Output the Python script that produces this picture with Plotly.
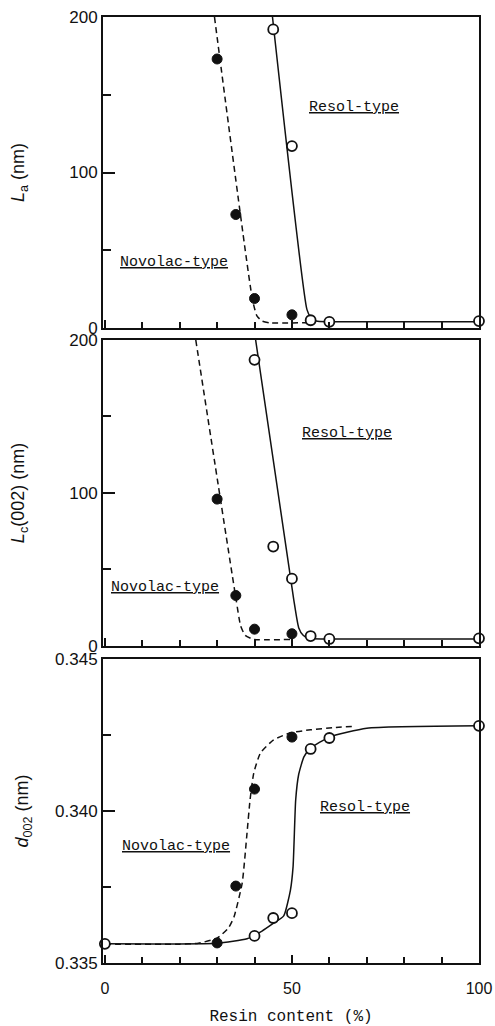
import plotly.graph_objects as go

# ---------------- data ----------------
# Panel 1: La (nm)
nov_La_x = [30, 35, 40, 50]
nov_La_y = [173, 73, 19, 8.5]
res_La_x = [45, 50, 55, 60, 100]
res_La_y = [192, 117, 5, 4, 4.5]
nov_La_fit_x = [29.3, 39.4, 40.6, 42.0, 44.0, 54.0]
nov_La_fit_y = [200, 19, 8, 4.5, 3.4, 3.4]
res_La_fit_x = [44.8, 54.0, 55.0, 56.5, 60.0, 100]
res_La_fit_y = [200, 12, 7, 4.5, 4.0, 4.0]

# Panel 2: Lc(002) (nm)
nov_Lc_x = [30, 35, 40, 50]
nov_Lc_y = [96, 33, 11, 8]
res_Lc_x = [40, 45, 50, 55, 60, 100]
res_Lc_y = [187, 65, 44, 6.5, 4.6, 5]
nov_Lc_fit_x = [24.3, 35.1, 36.3, 37.5, 39.8, 50.0]
nov_Lc_fit_y = [200, 30, 13, 7, 4.3, 4.3]
res_Lc_fit_x = [40.3, 50.5, 51.8, 53.0, 54.5, 58.0, 100]
res_Lc_fit_y = [200, 30, 12, 7, 5, 4.5, 4.5]

# Panel 3: d002 (nm)
nov_d_x = [30, 35, 40, 50]
nov_d_y = [0.33566, 0.33753, 0.34072, 0.34243]
res_d_x = [0, 40, 45, 50, 55, 60, 100]
res_d_y = [0.33563, 0.33589, 0.33648, 0.33664, 0.34204, 0.34240, 0.34280]
nov_d_fit_x = [0, 20, 25, 30, 33, 34.5, 36.7, 38, 38.8, 39.8, 41.6, 45.1, 49.6, 55, 61, 66]
nov_d_fit_y = [0.33562, 0.33562, 0.33565, 0.33582, 0.33615, 0.33651, 0.33763, 0.33928,
               0.34036, 0.34125, 0.34191, 0.34234, 0.34257, 0.34267, 0.34274, 0.34278]
res_d_fit_x = [0, 30, 38, 42, 45, 47.8, 49.6, 50.3, 51, 51.8, 53.2, 55, 60, 70, 100]
res_d_fit_y = [0.33563, 0.33565, 0.33580, 0.33605, 0.33630, 0.33655, 0.33740, 0.33816,
               0.34036, 0.34120, 0.34178, 0.34207, 0.34243, 0.34272, 0.34280]

x_ticks = [0, 50, 100]
La_ticks = [0, 100, 200]
d_ticks = [0.335, 0.340, 0.345]
d_tick_text = ["0.335", "0.340", "0.345"]

INK = "#111111"
MONO = "Liberation Mono"
SANS = "Liberation Sans"

fig = go.Figure()

def add_panel(xa, ya, nfx, nfy, rfx, rfy, nx, ny, rx, ry):
    fig.add_trace(go.Scatter(x=nfx, y=nfy, mode="lines", xaxis=xa, yaxis=ya,
                             line=dict(color=INK, width=1.5, dash="6px,4px", shape="spline", smoothing=0.5),
                             showlegend=False, hoverinfo="skip"))
    fig.add_trace(go.Scatter(x=rfx, y=rfy, mode="lines", xaxis=xa, yaxis=ya,
                             line=dict(color=INK, width=1.5, shape="spline", smoothing=0.5),
                             showlegend=False, hoverinfo="skip"))
    fig.add_trace(go.Scatter(x=nx, y=ny, mode="markers", xaxis=xa, yaxis=ya, cliponaxis=False,
                             marker=dict(symbol="circle", size=10, color=INK, line=dict(color=INK, width=1)),
                             showlegend=False))
    fig.add_trace(go.Scatter(x=rx, y=ry, mode="markers", xaxis=xa, yaxis=ya, cliponaxis=False,
                             marker=dict(symbol="circle", size=10, color="white", line=dict(color=INK, width=1.8)),
                             showlegend=False))

add_panel("x", "y", nov_La_fit_x, nov_La_fit_y, res_La_fit_x, res_La_fit_y,
          nov_La_x, nov_La_y, res_La_x, res_La_y)
add_panel("x2", "y2", nov_Lc_fit_x, nov_Lc_fit_y, res_Lc_fit_x, res_Lc_fit_y,
          nov_Lc_x, nov_Lc_y, res_Lc_x, res_Lc_y)
add_panel("x3", "y3", nov_d_fit_x, nov_d_fit_y, res_d_fit_x, res_d_fit_y,
          nov_d_x, nov_d_y, res_d_x, res_d_y)

common_x = dict(range=[-0.5, 100], showgrid=False, zeroline=False, showline=True,
                linewidth=2, linecolor=INK, mirror=True, ticks="inside", ticklen=8,
                tickwidth=1.5, tickcolor=INK, tickvals=x_ticks, automargin=False,
                ticklabelstandoff=10,
                minor=dict(tickvals=list(range(10, 100, 10)), ticks="inside", ticklen=6,
                           tickwidth=1.5, tickcolor=INK),
                tickfont=dict(family=SANS, size=16, color=INK))
common_y = dict(showgrid=False, zeroline=False, showline=True, linewidth=2, linecolor=INK,
                mirror=True, ticks="inside", ticklen=12, tickwidth=1.5, tickcolor=INK,
                automargin=False, tickfont=dict(family=SANS, size=17, color=INK))

fig.update_layout(
    width=495, height=1026,
    margin=dict(l=103, r=16, t=17, b=63),
    paper_bgcolor="white", plot_bgcolor="white",
    xaxis=dict(**common_x, anchor="y", domain=[0, 1], showticklabels=False, matches="x3"),
    xaxis2=dict(**common_x, anchor="y2", domain=[0, 1], showticklabels=False, matches="x3"),
    xaxis3=dict(**common_x, anchor="y3", domain=[0, 1],
                title=dict(text="Resin content (%)", font=dict(family=MONO, size=16, color=INK),
                           standoff=15)),
    yaxis=dict(**common_y, anchor="x", domain=[0.6712, 1.0], range=[0, 200], tickvals=La_ticks,
               minor=dict(tickvals=[50, 150], ticks="inside", ticklen=8, tickwidth=1.5, tickcolor=INK),
               title=dict(text="<i>L</i><sub>a</sub> (nm)", font=dict(family=SANS, size=18, color=INK),
                          standoff=40)),
    yaxis2=dict(**common_y, anchor="x2", domain=[0.3351, 0.6586], range=[0, 200], tickvals=La_ticks,
                minor=dict(tickvals=[50, 150], ticks="inside", ticklen=8, tickwidth=1.5, tickcolor=INK),
                title=dict(text="<i>L</i><sub>c</sub>(002) (nm)", font=dict(family=SANS, size=18, color=INK),
                           standoff=40)),
    yaxis3=dict(**common_y, anchor="x3", domain=[0, 0.3214], range=[0.335, 0.345],
                tickvals=d_ticks, ticktext=d_tick_text,
                minor=dict(tickvals=[0.3375, 0.3425], ticks="inside", ticklen=8, tickwidth=1.5, tickcolor=INK),
                title=dict(text="<i>d</i><sub>002</sub> (nm)", font=dict(family=SANS, size=18, color=INK),
                           standoff=22)),
)

labels = [
    ("x", "y", 66.7, 142, "Resol-type"),
    ("x", "y", 18.4, 42, "Novolac-type"),
    ("x2", "y2", 64.7, 139, "Resol-type"),
    ("x2", "y2", 16.2, 38.5, "Novolac-type"),
    ("x3", "y3", 69.6, 0.34013, "Resol-type"),
    ("x3", "y3", 19.0, 0.33882, "Novolac-type"),
]
for xa, ya, lx, ly, txt in labels:
    fig.add_annotation(x=lx, y=ly, xref=xa, yref=ya, text="<u>" + txt + "</u>",
                       showarrow=False, font=dict(family=MONO, size=15, color=INK))

fig.write_html("out.html")
